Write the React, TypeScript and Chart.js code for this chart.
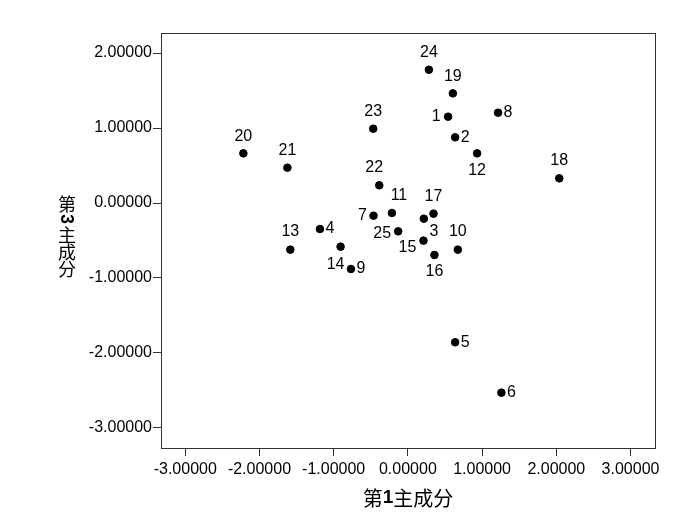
import React, { useEffect, useRef } from "react";
import { Chart, registerables } from "chart.js";

Chart.register(...registerables);

const caseLabels = ["1","2","3","4","5","6","7","8","9","10","11","12","13","14","15","16","17","18","19","20","21","22","23","24","25"];
const pc1Values = [0.542,0.637,0.215,-1.185,0.637,1.260,-0.463,1.215,-0.767,0.673,-0.215,0.933,-1.584,-0.907,0.210,0.358,0.345,2.040,0.606,-2.217,-1.624,-0.386,-0.467,0.283,-0.131];
const pc3Values = [1.151,0.876,-0.209,-0.347,-1.857,-2.529,-0.169,1.204,-0.880,-0.622,-0.133,0.662,-0.622,-0.582,-0.502,-0.693,-0.142,0.329,1.462,0.662,0.471,0.236,0.991,1.777,-0.378];
const xTickValues = [-3, -2, -1, 0, 1, 2, 3];
const yTickValues = [-3, -2, -1, 0, 1, 2];
const xTitle = ["第", "1", "主成分"];
const yTitle = "第3主成分";

// label offsets (px) relative to point, style only
const labelOffsets: [number, number][] = [
  [-12,0],[10,0],[10,13],[10,0],[10,0],[10,0],[-11,0],[10,0],[10,0],[0,-18],
  [7,-17],[0,17],[0,-18],[-5,18],[-16,7],[0,17],[0,-17],[0,-18],[0,-17],[0,-17],
  [0,-17],[-5,-18],[0,-17],[0,-17],[-16,2],
];

const fontSans = "Arial, 'Liberation Sans', Helvetica, sans-serif";
const fontCJK = "'Noto Sans CJK SC', 'Noto Sans CJK JP', sans-serif";

const decorPlugin = {
  id: "decor",
  afterDatasetsDraw(chart: any) {
    const ctx = chart.ctx;
    const ca = chart.chartArea;
    ctx.save();
    ctx.strokeStyle = "#333";
    ctx.lineWidth = 1;
    ctx.strokeRect(Math.round(ca.left) + 0.5, Math.round(ca.top) + 0.5, Math.round(ca.right - ca.left), Math.round(ca.bottom - ca.top));
    // point labels
    const meta = chart.getDatasetMeta(0);
    ctx.fillStyle = "#000";
    ctx.font = `16px ${fontSans}`;
    ctx.textAlign = "center";
    ctx.textBaseline = "middle";
    meta.data.forEach((el: any, i: number) => {
      const [dx, dy] = labelOffsets[i];
      ctx.fillText(caseLabels[i], el.x + dx, el.y + dy);
    });
    // x title
    ctx.textBaseline = "middle";
    ctx.textAlign = "left";
    const fonts = [`20px ${fontCJK}`, `bold 19px ${fontSans}`, `20px ${fontCJK}`];
    let total = 0;
    xTitle.forEach((t, k) => { ctx.font = fonts[k]; total += ctx.measureText(t).width; });
    let x = (ca.left + ca.right) / 2 - total / 2;
    const ty = 498;
    xTitle.forEach((t, k) => { ctx.font = fonts[k]; ctx.fillText(t, x, ty); x += ctx.measureText(t).width; });
    // y title vertical (digits rotated like vertical writing)
    const cx = 67;
    const centers = [204, 219, 235, 252, 269];
    yTitle.split("").forEach((c, k) => {
      const cy = centers[k];
      ctx.save();
      ctx.textAlign = "center";
      ctx.textBaseline = "middle";
      if (/[0-9]/.test(c)) {
        ctx.font = `bold 18px ${fontSans}`;
        ctx.translate(cx, cy);
        ctx.rotate(Math.PI / 2);
        ctx.fillText(c, 0, 1);
      } else {
        ctx.font = `18px ${fontCJK}`;
        ctx.fillText(c, cx, cy);
      }
      ctx.restore();
    });
    ctx.restore();
  },
};

export default function App() {
  const ref = useRef<HTMLCanvasElement>(null);
  useEffect(() => {
    if (!ref.current) return;
    const chart = new Chart(ref.current, {
      type: "scatter",
      data: {
        datasets: [
          {
            data: pc1Values.map((v, i) => ({ x: v, y: pc3Values[i] })),
            backgroundColor: "#000",
            borderColor: "#000",
            pointRadius: 3.8,
            pointHoverRadius: 3.8,
          },
        ],
      },
      options: {
        responsive: false,
        animation: false,
        events: [],
        layout: { padding: { top: 33, right: 36, left: 0, bottom: 0 } },
        plugins: { legend: { display: false }, tooltip: { enabled: false } },
        scales: {
          x: {
            type: "linear",
            min: -3.327,
            max: 3.33,
            afterBuildTicks: (axis: any) => { axis.ticks = xTickValues.map((v) => ({ value: v })); },
            afterFit: (axis: any) => { axis.height = 82; },
            ticks: {
              color: "#000",
              font: { size: 16, family: fontSans },
              padding: 4,
              maxRotation: 0,
              autoSkip: false,
              callback: (v: any) => Number(v).toFixed(5),
            },
            grid: { display: true, drawOnChartArea: false, drawTicks: true, tickLength: 8, color: "#333" },
            border: { display: true, color: "#333" },
          },
          y: {
            type: "linear",
            min: -3.267,
            max: 2.267,
            afterBuildTicks: (axis: any) => { axis.ticks = yTickValues.map((v) => ({ value: v })); },
            afterFit: (axis: any) => { axis.width = 161; },
            ticks: {
              color: "#000",
              font: { size: 16, family: fontSans },
              padding: 1,
              autoSkip: false,
              callback: (v: any) => Number(v).toFixed(5),
            },
            grid: { display: true, drawOnChartArea: false, drawTicks: true, tickLength: 8, color: "#333" },
            border: { display: true, color: "#333" },
          },
        },
      },
      plugins: [decorPlugin],
    });
    return () => chart.destroy();
  }, []);
  return (
    <div style={{ position: "fixed", left: 0, top: 0, width: 691, height: 530, background: "#fff" }}>
      <canvas ref={ref} width={691} height={530} style={{ width: 691, height: 530 }} />
    </div>
  );
}
